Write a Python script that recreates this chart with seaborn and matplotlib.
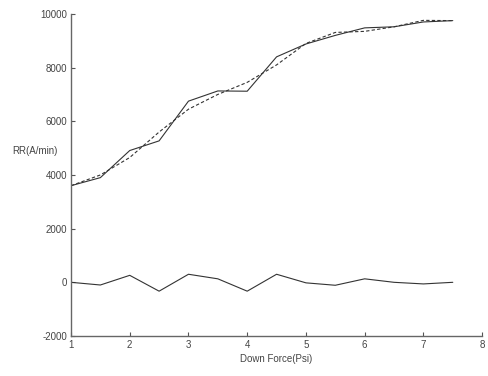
import matplotlib
matplotlib.use('Agg')
import matplotlib.pyplot as plt
import seaborn as sns
import pandas as pd

force = [1, 1.5, 2, 2.5, 3, 3.5, 4, 4.5, 5, 5.5, 6, 6.5, 7, 7.5]
rr_data = [3600, 3900, 4910, 5270, 6750, 7130, 7120, 8400, 8880, 9200, 9480, 9520, 9700, 9750]
rr_fit = [3600, 4000, 4650, 5600, 6450, 7000, 7450, 8100, 8900, 9310, 9350, 9520, 9760, 9750]
residual = [0, -100, 260, -330, 300, 130, -330, 300, -20, -110, 130, 0, -60, 0]

df = pd.DataFrame({'force': force, 'data': rr_data, 'fit': rr_fit, 'res': residual})

sns.set_style('ticks')
plt.rcParams['font.family'] = ['Liberation Sans', 'DejaVu Sans']
plt.rcParams['axes.unicode_minus'] = False

fig = plt.figure(figsize=(4.88, 3.76), dpi=100)
ax = fig.add_axes([0.1455, 0.1064, 0.8425, 0.8566])

sns.lineplot(data=df, x='force', y='data', color='#333333', linewidth=0.8, ax=ax)
sns.lineplot(data=df, x='force', y='fit', color='#333333', linewidth=0.8, ax=ax,
             dashes=False).lines[-1].set_dashes((3, 2))
sns.lineplot(data=df, x='force', y='res', color='#333333', linewidth=0.8, ax=ax)

ax.set_xlim(1, 8)
ax.set_ylim(-2000, 10000)
ax.set_xticks(range(1, 9))
ax.set_yticks(range(-2000, 10001, 2000))
ax.tick_params(direction='in', length=3, width=0.8, labelsize=7, colors='#555555',
               labelcolor='#444444', pad=3)
sns.despine(ax=ax)
for s in ['left', 'bottom']:
    ax.spines[s].set_color('#666666')
    ax.spines[s].set_linewidth(1.0)

ax.set_xlabel('Down Force(Psi)', fontsize=7, color='#444444', labelpad=3)
ax.set_ylabel('RR(A/min)', fontsize=7, color='#444444', rotation=0)
ax.yaxis.set_label_coords(-0.088, 0.56)

fig.savefig('out.png', dpi=100)
